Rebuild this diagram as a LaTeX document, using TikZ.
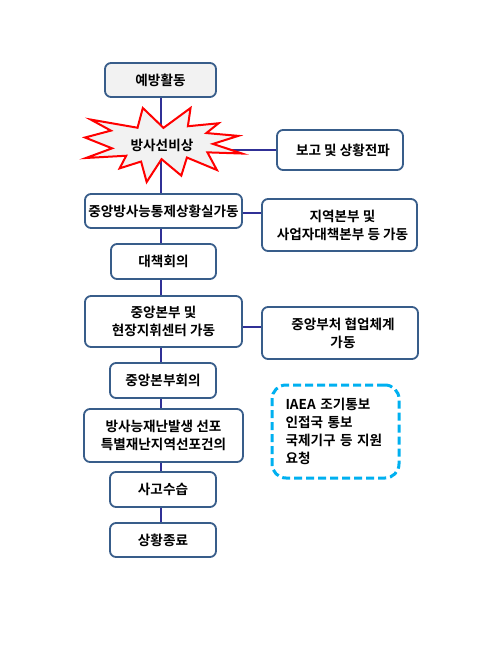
\documentclass[tikz,border=0pt]{standalone}
\usepackage{fontspec}
\setmainfont{Noto Sans CJK KR}[UprightFont=* Bold, BoldFont=* Bold]
\pgfdeclarelayer{background}
\pgfsetlayers{background,main}
\definecolor{bordc}{RGB}{56,93,138}
\definecolor{linec}{RGB}{48,48,150}
\definecolor{grayf}{RGB}{242,242,242}
\definecolor{cyanc}{RGB}{0,176,240}
\begin{document}
\begin{tikzpicture}[x=1pt,y=-1pt,
  font=\fontsize{13.6}{18}\selectfont,
  box/.style={draw=bordc, line width=1.8pt, rounded corners=6pt, fill=white, align=center, inner sep=1pt},
  conn/.style={draw=linec, line width=1.4pt},
  burst/.style={draw=red, line width=2pt, fill=grayf, line join=miter},
  notebox/.style={draw=cyanc, line width=3pt, dash pattern=on 8pt off 4pt, rounded corners=14pt, align=left, inner sep=2pt}]
\useasboundingbox (0,0) rectangle (500,661);

\coordinate (spine) at (161,0);

\node[box, fill=grayf, minimum width=111pt, minimum height=34pt] (prev) at (160.5,80) {예방활동};

\begin{scope}[shift={(85,108)}, x=1.57pt, y=-0.74pt]
\path[burst] (50,26.85) -- (67.23,0) -- (65.53,24.65) -- (85.09,20.63) -- (77.32,33.87)
  -- (97.67,37.67) -- (81.51,48.50) -- (100,61.53) -- (77.95,59.92) -- (84.00,83.77)
  -- (64.91,66.93) -- (61.33,91.38) -- (48.76,69.14) -- (39.28,100) -- (35.72,72.35)
  -- (22.05,81.56) -- (26.24,64.52) -- (0.63,67.53) -- (17.23,54.51) -- (0,39.88)
  -- (16.51,30.57) -- (3.65,15.65) -- (33.47,26.68) -- (36.82,0) -- cycle;
\end{scope}
\node[inner sep=0pt] (alert) at (162,145) {방사선비상};

\node[box, minimum width=126pt, minimum height=40pt] (report) at (340,150) {\hspace*{6pt}보고 및 상황전파};

\node[box, minimum width=157pt, minimum height=34pt] (ctrl) at (163.5,211) {중앙방사능통제상황실가동};
\node[box, minimum width=155pt, minimum height=52pt] (regional) at (339.5,225) {\hspace*{6pt}지역본부 및\\\hspace*{6pt}사업자대책본부 등 가동};

\node[box, minimum width=105pt, minimum height=35pt] (meet) at (163.5,261.5) {대책회의};

\node[box, minimum width=157pt, minimum height=51pt] (hq) at (163.5,321.5) {중앙본부 및\\현장지휘센터 가동};
\node[box, minimum width=156pt, minimum height=52pt] (coop) at (340,333) {\hspace*{6pt}중앙부처 협업체계\\\hspace*{6pt}가동};

\node[box, minimum width=106pt, minimum height=35pt] (hqmeet) at (163,380.5) {중앙본부회의};

\node[box, minimum width=159pt, minimum height=53pt] (declare) at (163.5,435.5) {방사능재난발생 선포\\특별재난지역선포건의};

\node[box, minimum width=106pt, minimum height=35pt] (recover) at (163,489.5) {사고수습};

\node[box, minimum width=106pt, minimum height=34pt] (finish) at (163,540) {상황종료};

\node[notebox, minimum width=127pt, minimum height=93pt, text width=100pt] (note) at (335.5,431.5) {IAEA 조기통보\\인접국 통보\\국제기구 등 지원\\요청};

\begin{pgfonlayer}{background}
\draw[conn] (spine |- prev.south) -- (spine |- ctrl.north);
\draw[conn] (spine |- ctrl.south) -- (spine |- meet.north);
\draw[conn] (spine |- meet.south) -- (spine |- hq.north);
\draw[conn] (spine |- hq.south) -- (spine |- hqmeet.north);
\draw[conn] (spine |- hqmeet.south) -- (spine |- declare.north);
\draw[conn] (spine |- declare.south) -- (spine |- recover.north);
\draw[conn] (spine |- recover.south) -- (spine |- finish.north);
\draw[conn] (report.west) -- (report.west -| alert.center);
\draw[conn] ([yshift=-2pt]ctrl.east) -- ([yshift=-2pt]ctrl.east -| regional.west);
\draw[conn] ([yshift=-5.5pt]hq.east) -- ([yshift=-5.5pt]hq.east -| coop.west);
\end{pgfonlayer}
\end{tikzpicture}
\end{document}
